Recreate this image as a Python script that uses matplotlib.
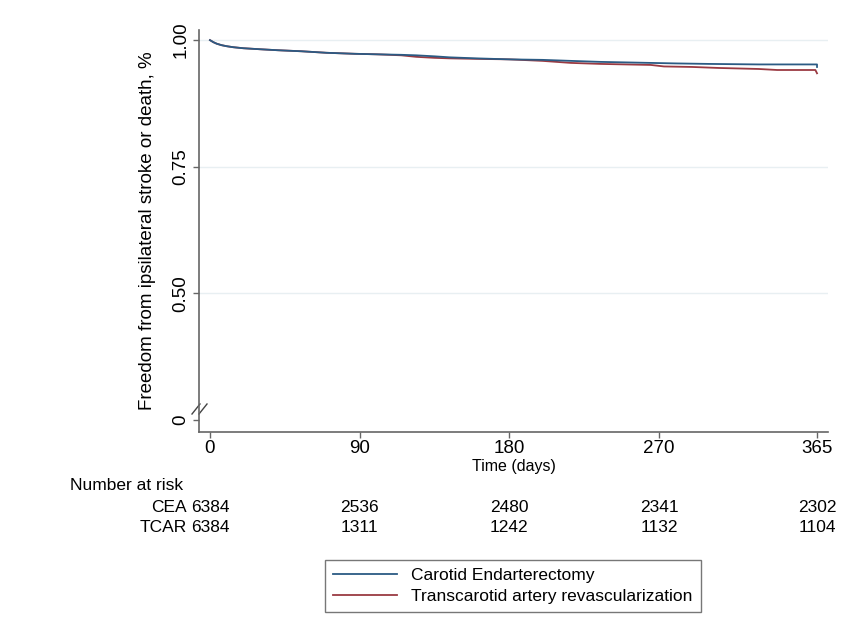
import matplotlib
matplotlib.use("Agg")
import matplotlib.pyplot as plt
import matplotlib.transforms as mtransforms

plt.rcParams['font.family'] = ['Liberation Sans', 'DejaVu Sans']

# ---- data ----
cea_time = [0, 2, 4, 7, 10, 14, 20, 30, 41, 55, 70, 87, 100, 115, 124, 135, 144,
            160, 180, 200, 217, 235, 250, 265, 280, 300, 330, 350, 365, 365]
cea_surv = [1.000, 0.996, 0.993, 0.990, 0.988, 0.986, 0.984, 0.982, 0.980, 0.978,
            0.975, 0.973, 0.972, 0.971, 0.970, 0.968, 0.966, 0.964, 0.962, 0.961,
            0.959, 0.957, 0.956, 0.955, 0.954, 0.953, 0.952, 0.952, 0.952, 0.947]

tcar_time = [0, 2, 4, 7, 10, 14, 20, 30, 41, 55, 70, 87, 100, 115, 124, 135, 144,
             160, 180, 200, 217, 235, 250, 265, 273, 290, 306, 330, 341, 364, 365]
tcar_surv = [1.000, 0.996, 0.993, 0.990, 0.988, 0.986, 0.984, 0.982, 0.980, 0.978,
             0.975, 0.973, 0.972, 0.970, 0.967, 0.965, 0.964, 0.963, 0.962, 0.959,
             0.955, 0.953, 0.952, 0.951, 0.948, 0.947, 0.945, 0.943, 0.941, 0.941,
             0.9345]

x_ticks = [0, 90, 180, 270, 365]
y_ticks = [0.25, 0.50, 0.75, 1.00]
y_ticklabels = ["0", "0.50", "0.75", "1.00"]
grid_levels = [0.50, 0.75, 1.00]

risk_groups = ["CEA", "TCAR"]
risk_cea = [6384, 2536, 2480, 2341, 2302]
risk_tcar = [6384, 1311, 1242, 1132, 1104]

labels = ["Carotid Endarterectomy", "Transcarotid artery revascularization"]
colors = ["#2b5b84", "#9a3a42"]

# ---- figure ----
W, H = 851, 630
fig = plt.figure(figsize=(W / 100, H / 100), dpi=100)
ax_l, ax_r, ax_t, ax_b = 199, 828, 30, 432
ax = fig.add_axes([ax_l / W, 1 - ax_b / H, (ax_r - ax_l) / W, (ax_b - ax_t) / H])

ax.set_xlim(-6.6, 371.6)
ax.set_ylim(0.226, 1.02)

for g in grid_levels:
    ax.axhline(g, color="#e8eff2", lw=1.0, zorder=0)

l1, = ax.plot(cea_time, cea_surv, color=colors[0], lw=1.3, label=labels[0], zorder=3)
l2, = ax.plot(tcar_time, tcar_surv, color=colors[1], lw=1.3, label=labels[1], zorder=2)

for s in ["top", "right"]:
    ax.spines[s].set_visible(False)
for s in ["left", "bottom"]:
    ax.spines[s].set_color("#666666")
    ax.spines[s].set_linewidth(1.2)

ax.set_xticks(x_ticks)
ax.set_xticklabels([str(t) for t in x_ticks], fontsize=13.5)
ax.set_yticks(y_ticks)
ax.set_yticklabels(y_ticklabels, fontsize=13.5, rotation=90, va="center")
ax.tick_params(axis="both", direction="out", length=4, width=1.0, color="#666666")
ax.tick_params(axis="x", pad=2)
ax.tick_params(axis="y", pad=3)

ax.set_xlabel("Time (days)", fontsize=11.5, labelpad=1)
ax.set_ylabel("Freedom from ipsilateral stroke or death, %", fontsize=13.5, labelpad=12)

# axis break marks
aw = ax_r - ax_l
ah = ax_b - ax_t
for dx in (-3, 4):
    xs = [(dx - 4) / aw, (dx + 4) / aw]
    ys = [(432 - 414) / ah, (432 - 404) / ah]
    ax.plot(xs, ys, transform=ax.transAxes, color="#444444", lw=1.0, clip_on=False)

# number at risk table
trans = mtransforms.blended_transform_factory(ax.transData, fig.transFigure)
fig.text(70 / W, 1 - 485 / H, "Number at risk", fontsize=12.5, ha="left", va="center")
row_y = [1 - 508 / H, 1 - 527 / H]
for name, vals, yy in zip(risk_groups, [risk_cea, risk_tcar], row_y):
    fig.text(187 / W, yy, name, fontsize=12.5, ha="right", va="center")
    for t, v in zip(x_ticks, vals):
        ax.text(t, yy, str(v), transform=trans, fontsize=12.5, ha="center", va="center")

leg = fig.legend(handles=[l1, l2], loc="center", bbox_to_anchor=(513 / W, 1 - 586 / H),
                 fontsize=12.5, frameon=True, fancybox=False, handlelength=3.7,
                 handletextpad=0.8, borderpad=0.45, labelspacing=0.35)
leg.get_frame().set_edgecolor("#555555")
leg.get_frame().set_linewidth(1.0)

fig.savefig("out.png", dpi=100)
